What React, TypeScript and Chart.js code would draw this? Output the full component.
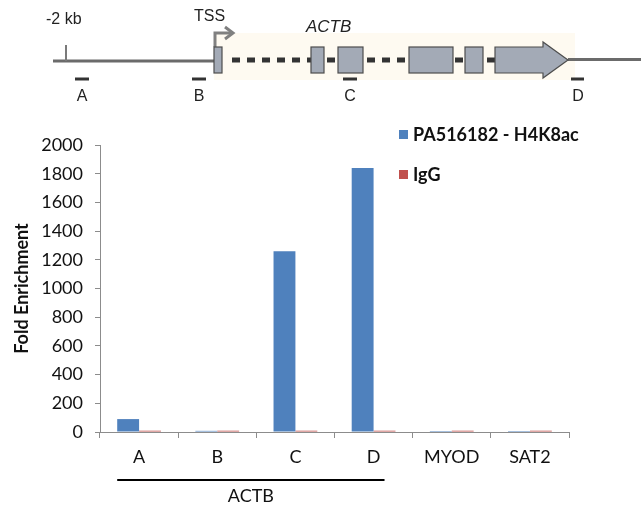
import React, { useEffect, useRef } from "react";
import { Chart, registerables } from "chart.js";

Chart.register(...registerables);

const categories = ["A", "B", "C", "D", "MYOD", "SAT2"];
const h4k8acValues = [90, 8, 1260, 1840, 7, 7];
const iggValues = [9, 9, 9, 9, 9, 9];
const seriesLabels = ["PA516182 - H4K8ac", "IgG"];
const seriesColors = ["#4F81BD", "#C0504D"];
const yTicksMin = 0;
const yTicksMax = 2000;
const yTickStep = 200;
const groupLabel = "ACTB";
const groupFirst = 0;
const groupLast = 3;

const FONT = "Lato, 'Open Sans', sans-serif";

const customPlugin = {
  id: "customDecor",
  afterDraw(chart: any) {
    const ctx = chart.ctx;
    const x = chart.scales.x;
    ctx.save();
    // legend
    const lx = 399;
    const ly = [130, 170];
    chart.data.datasets.forEach((ds: any, i: number) => {
      ctx.fillStyle = ds.backgroundColor;
      ctx.fillRect(lx, ly[i], 9, 9);
      ctx.fillStyle = "#111";
      ctx.font = `bold 18px ${FONT}`;
      ctx.textBaseline = "middle";
      ctx.textAlign = "left";
      ctx.fillText(ds.label, lx + 14, ly[i] + 5);
    });
    // group bracket
    const cw = x.getPixelForValue(1) - x.getPixelForValue(0);
    const x1 = x.getPixelForValue(groupFirst) - cw * 0.28;
    const x2 = x.getPixelForValue(groupLast) + cw * 0.14;
    ctx.strokeStyle = "#000";
    ctx.lineWidth = 2;
    ctx.beginPath();
    ctx.moveTo(x1, 480);
    ctx.lineTo(x2, 480);
    ctx.stroke();
    ctx.fillStyle = "#111";
    ctx.font = `18px ${FONT}`;
    ctx.textAlign = "center";
    ctx.textBaseline = "middle";
    ctx.fillText(groupLabel, (x1 + x2) / 2, 496);
    ctx.restore();
  },
};

function GeneDiagram() {
  const exonFill = "#a3aab6";
  const exonStroke = "#4d4d4d";
  const txt = { fontFamily: "'Liberation Sans', Arial, sans-serif", fill: "#222" } as any;
  const intron = (a: number, b: number, off: number) => (
    <line x1={a} y1={60} x2={b} y2={60} stroke="#333" strokeWidth={5} strokeDasharray="8 7" strokeDashoffset={off} />
  );
  return (
    <svg width={641} height={110} style={{ position: "absolute", left: 0, top: 0, pointerEvents: "none" }}>
      <rect x={214} y={33} width={361} height={47} fill="#fefaf1" />
      <line x1={53} y1={61} x2={215} y2={61} stroke="#6b6b6b" strokeWidth={3} />
      <line x1={66} y1={45} x2={66} y2={61} stroke="#7a7a7a" strokeWidth={2} />
      <line x1={568} y1={59.5} x2={641} y2={59.5} stroke="#6b6b6b" strokeWidth={3} />
      <text x={46} y={24} fontSize={16} {...txt}>-2 kb</text>
      <text x={194} y={21} fontSize={16} {...txt}>TSS</text>
      <text x={306} y={32} fontSize={17} fontStyle="italic" {...txt}>ACTB</text>
      <path d="M215 47 V33 H231" stroke="#808080" strokeWidth={3} fill="none" />
      <path d="M225 27 L233 33 L225 39" stroke="#808080" strokeWidth={3} fill="none" />
      {intron(232, 311, 0)}
      {intron(327, 338, 0)}
      {intron(367, 409, 0)}
      {intron(455, 465, 0)}
      {intron(487, 495, 0)}
      <rect x={214} y={47} width={8} height={26} fill={exonFill} stroke={exonStroke} strokeWidth={1.2} />
      <rect x={311} y={47} width={13} height={26} fill={exonFill} stroke={exonStroke} strokeWidth={1.2} />
      <rect x={338} y={47} width={25} height={26} fill={exonFill} stroke={exonStroke} strokeWidth={1.2} />
      <rect x={409} y={47} width={44} height={26} fill={exonFill} stroke={exonStroke} strokeWidth={1.2} />
      <rect x={465} y={47} width={18} height={26} fill={exonFill} stroke={exonStroke} strokeWidth={1.2} />
      <polygon points="495,47 543,47 543,42 568,60 543,78 543,73 495,73" fill={exonFill} stroke={exonStroke} strokeWidth={1.2} />
      <line x1={75} y1={79} x2={89} y2={79} stroke="#333" strokeWidth={3} />
      <line x1={192} y1={79} x2={206} y2={79} stroke="#333" strokeWidth={3} />
      <line x1={343} y1={79} x2={357} y2={79} stroke="#333" strokeWidth={3} />
      <line x1={571} y1={79} x2={584} y2={79} stroke="#333" strokeWidth={3} />
      <text x={82} y={101} fontSize={16} textAnchor="middle" {...txt}>A</text>
      <text x={199} y={101} fontSize={16} textAnchor="middle" {...txt}>B</text>
      <text x={350} y={101} fontSize={16} textAnchor="middle" {...txt}>C</text>
      <text x={578} y={101} fontSize={16} textAnchor="middle" {...txt}>D</text>
    </svg>
  );
}

export default function App() {
  const ref = useRef<HTMLCanvasElement>(null);
  useEffect(() => {
    if (!ref.current) return;
    const chart = new Chart(ref.current, {
      type: "bar",
      data: {
        labels: categories,
        datasets: [
          { label: seriesLabels[0], data: h4k8acValues, backgroundColor: seriesColors[0], categoryPercentage: 0.56, barPercentage: 1 },
          { label: seriesLabels[1], data: iggValues, backgroundColor: seriesColors[1], categoryPercentage: 0.56, barPercentage: 1 },
        ],
      },
      options: {
        responsive: false,
        animation: false,
        layout: { padding: { left: 0, top: 145, right: 72, bottom: 0 } },
        plugins: { legend: { display: false }, tooltip: { enabled: false } },
        scales: {
          y: {
            min: yTicksMin,
            max: yTicksMax,
            ticks: { stepSize: yTickStep, font: { family: FONT, size: 18 }, color: "#111", padding: 12, callback: (v: any) => String(v) },
            grid: { drawOnChartArea: false, tickLength: 5, color: "#8c8c8c" },
            border: { color: "#8c8c8c" },
            title: { display: true, text: "Fold Enrichment", font: { family: FONT, size: 18, weight: "bold" }, color: "#111", padding: { top: 11, bottom: 0 } },
            afterFit: (s: any) => { s.width = 100; },
          },
          x: {
            ticks: { font: { family: FONT, size: 18 }, color: "#111", padding: 8 },
            grid: { offset: true, drawOnChartArea: false, tickLength: 6, color: "#8c8c8c" },
            border: { color: "#8c8c8c" },
            afterFit: (s: any) => { s.height = 89; },
          },
        },
      },
      plugins: [customPlugin],
    } as any);
    return () => chart.destroy();
  }, []);
  return (
    <div style={{ position: "absolute", left: 0, top: 0, width: 641, height: 521, background: "#fff" }}>
      <canvas ref={ref} width={641} height={521} style={{ position: "absolute", left: 0, top: 0 }} />
      <GeneDiagram />
    </div>
  );
}
